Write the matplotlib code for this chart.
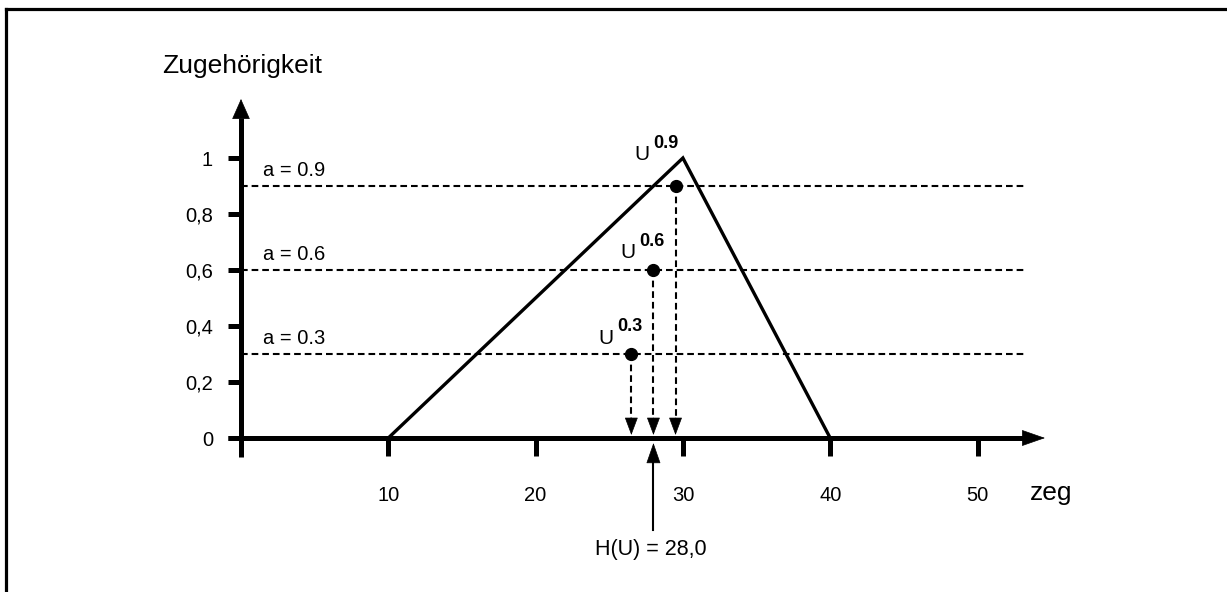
import matplotlib
matplotlib.use("Agg")
import matplotlib.pyplot as plt
from matplotlib.lines import Line2D

plt.rcParams["font.family"] = ["Liberation Sans", "DejaVu Sans"]

# membership function (triangle) and alpha cuts
tri_x = [10, 30, 40]
tri_y = [0, 1, 0]
alpha_levels = [0.3, 0.6, 0.9]
alpha_labels = ["a = 0.3", "a = 0.6", "a = 0.9"]
cut_centers = [26.5, 28.0, 29.5]
cut_names = ["0.3", "0.6", "0.9"]
centroid = 28.0
centroid_label = "H(U) = 28,0"

x_ticks = [0, 10, 20, 30, 40, 50]
x_tick_labels = ["", "10", "20", "30", "40", "50"]
y_ticks = [0, 0.2, 0.4, 0.6, 0.8, 1.0]
y_tick_labels = ["0", "0,2", "0,4", "0,6", "0,8", "1"]

# pixel scale of the original drawing: 14.73 px per x unit, 280 px per y unit
PX_X = 14.73
PX_Y = 280.0
W, H = 1227, 592
ORIGIN_PX = (241, 438)


def px_dx(p):
    return p / PX_X


def px_dy(p):
    return p / PX_Y


fig = plt.figure(figsize=(W / 100, H / 100), dpi=100)
ax = fig.add_axes([0, 0, 1, 1])
ax.set_xlim(-ORIGIN_PX[0] / PX_X, (W - ORIGIN_PX[0]) / PX_X)
ax.set_ylim((ORIGIN_PX[1] - H) / PX_Y, ORIGIN_PX[1] / PX_Y)
ax.axis("off")

# frame around the figure (only left and top visible)
fig.add_artist(Line2D([6 / W, 6 / W], [0, 1 - 9 / H], color="black", lw=2.3,
                      transform=fig.transFigure, solid_capstyle="projecting"))
fig.add_artist(Line2D([6 / W, 1], [1 - 9 / H, 1 - 9 / H], color="black", lw=2.3,
                      transform=fig.transFigure, solid_capstyle="projecting"))

axis_lw = 3.6
x_tip = px_dx(1045 - 241)
y_tip = px_dy(438 - 99)


def head(x_from, y_from, x_to, y_to, length, half_width):
    ax.annotate("", xy=(x_to, y_to), xytext=(x_from, y_from),
                arrowprops=dict(arrowstyle=f"-|>,head_length={length},head_width={half_width}",
                                mutation_scale=1, lw=0.5, fc="black", ec="black",
                                shrinkA=0, shrinkB=0))


# axes
ax.plot([-px_dx(13), x_tip - px_dx(22)], [0, 0], color="black", lw=axis_lw, solid_capstyle="butt")
head(x_tip - px_dx(22), 0, x_tip, 0, 15.5, 5.4)
ax.plot([0, 0], [-px_dy(19), y_tip - px_dy(19)], color="black", lw=axis_lw, solid_capstyle="butt")
head(0, y_tip - px_dy(19), 0, y_tip, 13.5, 6.0)

# ticks
for xv, lab in zip(x_ticks, x_tick_labels):
    ax.plot([xv, xv], [0, -px_dy(18)], color="black", lw=axis_lw, solid_capstyle="butt")
    if lab:
        ax.text(xv, -px_dy(63), lab, ha="center", va="baseline", fontsize=14.5)
for yv, lab in zip(y_ticks, y_tick_labels):
    ax.plot([-px_dx(13), 0], [yv, yv], color="black", lw=axis_lw, solid_capstyle="butt")
    ax.text(-px_dx(28), yv, lab, ha="right", va="center_baseline", fontsize=14.5)

ax.text(-px_dx(241 - 162), px_dy(438 - 73), "Zugehörigkeit", ha="left", va="baseline", fontsize=19)
ax.text(px_dx(1051 - 241), -px_dy(62), "zeg", ha="center", va="baseline", fontsize=19)

# alpha-cut levels
dash = (0, (3.2, 1.9))
for lvl, lab in zip(alpha_levels, alpha_labels):
    ax.plot([0, px_dx(1027 - 241)], [lvl, lvl], color="black", lw=1.5, linestyle=dash)
    ax.text(px_dx(22), lvl + px_dy(16), lab, ha="left", va="center", fontsize=14.5)

# membership triangle
ax.plot(tri_x, tri_y, color="black", lw=2.4, solid_joinstyle="miter")

# cut centres with dashed drop arrows
u_offsets = [(-1.72, 0.057), (-1.73, 0.061), (-2.28, 0.111)]
for cx, lvl, name, (ox, oy) in zip(cut_centers, alpha_levels, cut_names, u_offsets):
    base = px_dy(20)
    ax.plot([cx, cx], [lvl, base], color="black", lw=1.5, linestyle=dash)
    head(cx, base, cx, px_dy(3), 11.5, 4.3)
    ax.plot(cx, lvl, "o", color="black", markersize=8.5)
    ax.text(cx + ox, lvl + oy, "U", ha="center", va="center", fontsize=15)
    ax.annotate(name, xy=(cx + ox, lvl + oy), xytext=(17, 8), textcoords="offset points",
                ha="center", va="center", fontsize=13, fontweight="bold")

# centroid arrow
ax.plot([centroid, centroid], [-px_dy(92), -px_dy(24)], color="black", lw=1.5)
head(centroid, -px_dy(24), centroid, -px_dy(5), 13.5, 4.7)
ax.text(centroid - px_dx(3), -px_dy(117), centroid_label, ha="center", va="baseline", fontsize=15.5)

fig.savefig("out.png", dpi=100, facecolor="white")
